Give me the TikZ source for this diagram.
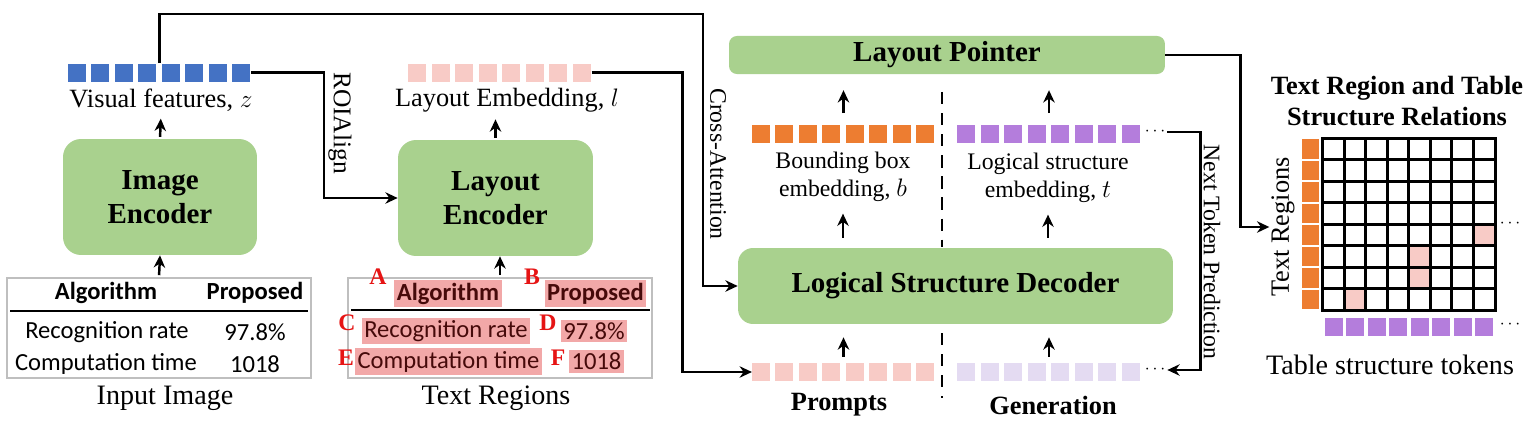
\documentclass[tikz,border=0pt]{standalone}
\usepackage{fontspec}
\setmainfont{Liberation Serif}
\newfontfamily\tabfont{Carlito}
\usetikzlibrary{arrows.meta,positioning}

\definecolor{encgreen}{RGB}{169,209,142}
\definecolor{visblue}{RGB}{68,114,196}
\definecolor{laypink}{RGB}{248,203,198}
\definecolor{boxorange}{RGB}{237,125,49}
\definecolor{lspurple}{RGB}{180,125,220}
\definecolor{genpurple}{RGB}{228,219,242}
\definecolor{hlpink}{RGB}{242,168,168}
\definecolor{hltext}{RGB}{70,10,10}
\definecolor{letterred}{RGB}{230,20,20}

\newcommand{\fsz}[2]{\fontsize{#1}{#2}\selectfont}
% a row of 8 token squares
\newcommand{\tokens}[3]{%
  \node[tokrow] (#1) at (#2) {};
  \foreach \k in {0,...,7}
    \fill[#3] ([xshift=\k*0.47cm]#1.south west) rectangle ++(0.36cm,0.36cm);
}

\begin{document}
\begin{tikzpicture}[x=0.02cm,y=-0.02cm,
    conn/.style={-{Stealth[length=7pt,width=6.5pt]}, line width=1.4pt},
    enc/.style={fill=encgreen, rounded corners=0.36cm, align=center, font=\bfseries\fsz{16.5}{19}},
    lbl/.style={font=\fsz{15}{17}, inner sep=1pt},
    sublbl/.style={font=\fsz{13.5}{16}, align=center, inner sep=1pt},
    head/.style={font=\bfseries\fsz{15}{18}, align=center},
    tokrow/.style={minimum width=3.65cm, minimum height=0.36cm, inner sep=0pt},
    tabimg/.style={draw=gray!50, line width=1.2pt, fill=white, minimum width=6.08cm, minimum height=2cm},
    celltxt/.style={font=\tabfont\fsz{14}{15}, inner sep=1.5pt},
    celltxtb/.style={font=\tabfont\bfseries\fsz{14}{15}, inner sep=1.5pt},
    hl/.style={fill=hlpink, text=hltext},
    letter/.style={font=\bfseries\fsz{13.5}{13.5}, text=letterred, inner sep=0pt},
    gridline/.style={line width=1.6pt},
    dots/.style={font=\fsz{10}{10}, inner sep=1pt}]

\useasboundingbox (0,0) rectangle (1539,429);

% image branch
\node[enc, minimum width=3.88cm, minimum height=2.32cm] (img) at (160,197) {Image\\Encoder};
\tokens{vis}{159.5,72.5}{visblue}
\node[lbl] (visl) at (161,100) {Visual features, $z$};
\node[tabimg] (tab1) at (159,328) {};
\draw[line width=1.5pt] (10,311) -- (308,311);
\node[celltxtb] (t1a) at (106,293) {Algorithm};
\node[celltxtb] (t1b) at (255,293) {Proposed};
\node[celltxt] (t1c) at (107,332) {Recognition rate};
\node[celltxt] (t1d) at (255,332) {97.8\%};
\node[celltxt] (t1e) at (106,364) {Computation time};
\node[celltxt] (t1f) at (255,364) {1018};
\node[lbl, font=\fsz{16}{18}] (inl) at (165,398) {Input Image};

% layout branch
\node[enc, minimum width=3.9cm, minimum height=2.32cm] (lenc) at (495.5,198) {Layout\\Encoder};
\tokens{lay}{500,72.5}{laypink}
\node[lbl] (layl) at (507,100) {Layout Embedding, $l$};
\node[tabimg] (tab2) at (500,328) {};
\draw[line width=1.5pt] (351,310) -- (650,310);
\node[celltxtb, hl] (ra) at (448,293.5) {Algorithm};
\node[celltxtb, hl] (rb) at (595.5,293.5) {Proposed};
\node[celltxt, hl] (rc) at (446,331) {Recognition rate};
\node[celltxt, hl] (rd) at (594,331) {97.8\%};
\node[celltxt, hl] (re) at (448.5,361.5) {Computation time};
\node[celltxt, hl] (rf) at (596.5,361.5) {1018};
\node[letter] at (378,277) {A};
\node[letter] at (532,277) {B};
\node[letter] at (347,323) {C};
\node[letter] at (548,323) {D};
\node[letter] at (346,358) {E};
\node[letter] at (558,358) {F};
\node[lbl, font=\fsz{16}{18}] (trb) at (496,398) {Text Regions};

% decoder
\node[enc, rounded corners=0.16cm, minimum width=8.72cm, minimum height=0.76cm] (lp) at (947,55) {Layout Pointer};
\node[enc, rounded corners=0.3cm, minimum width=8.7cm, minimum height=1.52cm] (dec) at (955.5,286) {Logical Structure Decoder};
\tokens{bbox}{843.5,134}{boxorange}
\tokens{lse}{1049,134}{lspurple}
\tokens{prm}{843.5,372}{laypink}
\tokens{gen}{1049,372}{genpurple}
\node[dots] (dots1) at (1155,132) {$\cdots$};
\node[dots] (dots2) at (1155,370) {$\cdots$};
\node[sublbl] (bboxl) at (843,177) {Bounding box\\embedding, $b$};
\node[sublbl] (lsel) at (1048,178) {Logical structure\\embedding, $t$};
\node[head] (prml) at (839,405) {Prompts};
\node[head] (genl) at (1053,405) {Generation};
\draw[line width=1.4pt, dash pattern=on 7pt off 5pt] (942,92) -- (942,247);
\draw[line width=1.4pt, dash pattern=on 7pt off 5pt] (942,333) -- (942,398);

% relations grid
\node[minimum size=3.44cm, inner sep=0pt] (grid) at (1409,224.5) {};
\foreach \r/\c in {5/8,6/5,7/5,8/2}
  \fill[laypink] ([xshift=(\c-1)*0.43cm, yshift=-(\r-1)*0.43cm]grid.north west) rectangle ++(0.43cm,-0.43cm);
\foreach \k in {1,...,7} {
  \draw[gridline] ([xshift=\k*0.43cm]grid.north west) -- ([xshift=\k*0.43cm]grid.south west);
  \draw[gridline] ([yshift=-\k*0.43cm]grid.north west) -- ([yshift=-\k*0.43cm]grid.north east);
}
\draw[gridline] (grid.north west) rectangle (grid.south east);
\foreach \k in {0,...,7} {
  \fill[boxorange] ([xshift=-0.42cm, yshift=-\k*0.43cm-0.02cm]grid.north west) rectangle ++(0.34cm,-0.39cm);
  \fill[lspurple] ([xshift=\k*0.43cm+0.04cm, yshift=-0.14cm]grid.south west) rectangle ++(0.36cm,-0.36cm);
}
\node[dots] (dots3) at (1510,224) {$\cdots$};
\node[dots] (dots4) at (1510,325) {$\cdots$};
\node[head] (title) at (1397,101) {Text Region and Table\\Structure Relations};
\node[lbl, rotate=90] (trl) at (1283,227) {Text Regions};
\node[lbl, font=\fsz{16}{18}] (tstl) at (1390,365) {Table structure tokens};

% connectors
\coordinate (bend) at (703,14);
\draw[conn] (vis.north) |- (bend) |- (dec.west);
\node[sublbl, rotate=-90] (cal) at (718,164) {Cross-Attention};
\draw[conn] (vis.east) -- ++(1.46cm,0) |- (lenc.west);
\node[lbl, font=\fsz{14.5}{16}, rotate=-90] (roil) at (340,123) {ROIAlign};
\draw[conn] (lay.east) -- ++(1.82cm,0) |- (prm.west);
\draw[conn] (dots1.east) -- ++(0.66cm,0) |- (dots2.east);
\node[sublbl, rotate=-90] (ntl) at (1212,252) {Next Token Prediction};
\draw[conn] (lp.east) -- ++(1.5cm,0) |- (trl.north);

\draw[conn, shorten <=1pt] (tab1.north) -- (img.south);
\draw[conn, shorten <=1pt, shorten >=3pt] (img.north) -- (visl.south);
\draw[conn, shorten <=1pt] (tab2.north) -- (tab2.north |- lenc.south);
\draw[conn, shorten <=1pt, shorten >=3pt] (lenc.north) -- (lenc.north |- layl.south);
\draw[conn, shorten <=5.5pt, shorten >=5.5pt] (bboxl.south |- dec.north) -- (bboxl.south);
\draw[conn, shorten <=5.5pt, shorten >=5.5pt] (lsel.south |- dec.north) -- (lsel.south);
\draw[conn, shorten <=6.5pt, shorten >=9pt] (bbox.north) -- (bbox.north |- lp.south);
\draw[conn, shorten <=6.5pt, shorten >=9pt] (lse.north) -- (lse.north |- lp.south);
\draw[conn, shorten <=3.4pt, shorten >=7.4pt] (prm.north) -- (prm.north |- dec.south);
\draw[conn, shorten <=3.4pt, shorten >=7.4pt] (gen.north) -- (gen.north |- dec.south);
\end{tikzpicture}
\end{document}
